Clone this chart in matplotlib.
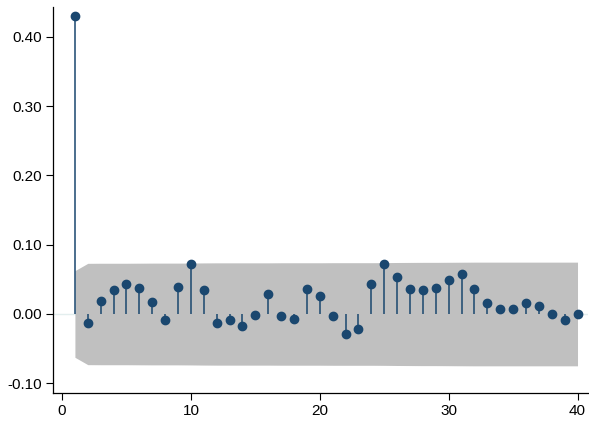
import matplotlib.pyplot as plt
from matplotlib.ticker import FormatStrFormatter

plt.rcParams['font.family'] = ['Liberation Sans', 'DejaVu Sans']

# Autocorrelations by lag
lags = list(range(1, 41))
acf = [0.430, -0.0135, 0.0193, 0.0350, 0.0438, 0.0375, 0.0169, -0.0087, 0.0390, 0.0727,
       0.0350, -0.0135, -0.0087, -0.0173, -0.0014, 0.0289, -0.0034, -0.0067, 0.0366, 0.0255,
       -0.0029, -0.0294, -0.0212, 0.0438, 0.0722, 0.0539, 0.0356, 0.0347, 0.0380, 0.0491,
       0.0578, 0.0361, 0.0154, 0.0077, 0.0067, 0.0154, 0.0116, 0.0005, -0.0087, 0.0000]

# 95% confidence band half-widths (Bartlett)
band = [0.0625, 0.0731, 0.0732, 0.0732, 0.0732, 0.0733, 0.0734, 0.0734, 0.0734, 0.0735,
        0.0737, 0.0738, 0.0738, 0.0738, 0.0738, 0.0738, 0.0739, 0.0739, 0.0739, 0.0739,
        0.0740, 0.0740, 0.0740, 0.0740, 0.0741, 0.0743, 0.0744, 0.0745, 0.0745, 0.0746,
        0.0747, 0.0748, 0.0748, 0.0748, 0.0748, 0.0748, 0.0748, 0.0748, 0.0748, 0.0748]

navy = '#1a476f'

fig = plt.figure(figsize=(5.89, 4.21), dpi=100)
ax = fig.add_axes([0.09, 0.0665, 0.908, 0.917])

ax.axhline(0, color='#e3eeee', lw=1.0, zorder=0)
ax.fill_between(lags, [-b for b in band], band, color='#c0c0c0', lw=0, zorder=1)
ax.vlines(lags, 0, acf, color=navy, lw=1.1, zorder=2)
ax.plot(lags, acf, 'o', color=navy, ms=6, zorder=3)

ax.set_xlim(-0.7, 40.8)
ax.set_ylim(-0.114, 0.443)
ax.set_xticks([0, 10, 20, 30, 40])
ax.set_yticks([-0.1, 0.0, 0.1, 0.2, 0.3, 0.4])
ax.yaxis.set_major_formatter(FormatStrFormatter('%.2f'))
ax.tick_params(labelsize=11, length=5, width=0.8, colors='black', pad=3)

for side in ['top', 'right']:
    ax.spines[side].set_visible(False)
for side in ['left', 'bottom']:
    ax.spines[side].set_linewidth(0.9)

fig.savefig('out.png', dpi=100)
